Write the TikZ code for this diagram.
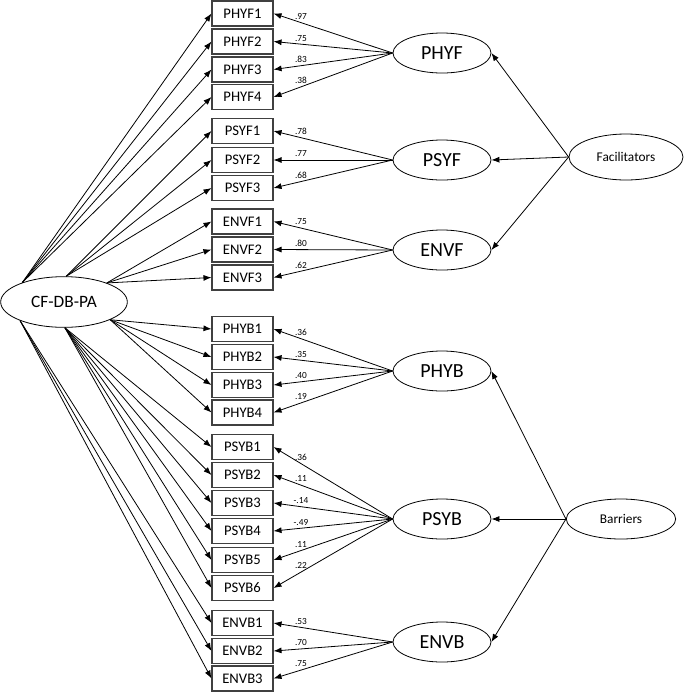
\documentclass[tikz,border=0pt]{standalone}
\usepackage{fontspec}
\setmainfont{Carlito}
\usetikzlibrary{shapes.geometric,arrows.meta}
\begin{document}
\begin{tikzpicture}[x=0.75pt, y=-0.75pt, >={Latex[length=6pt,width=4.5pt]},
    indbox/.style={rectangle, draw=black!75, line width=0.8pt, minimum width=45.75pt, minimum height=18.75pt, inner sep=0pt, font=\fontsize{11}{12}\selectfont},
    lat/.style={ellipse, draw, line width=0.6pt, minimum width=73.5pt, minimum height=30pt, inner sep=0pt, font=\fontsize{15}{16}\selectfont},
    coef/.style={above, inner sep=2pt, font=\fontsize{7}{8}\selectfont},
    conn/.style={->, line width=0.6pt}]
    \useasboundingbox (0,0) rectangle (685,693);

    % Nodes
    \node (cf) [ellipse, draw, line width=0.6pt, minimum width=95pt, minimum height=38pt, inner sep=0pt, font=\fontsize{13}{14}\selectfont] at (64,302) {CF-DB-PA};

    \node (phyf1) [indbox] at (242.5,13.5) {PHYF1};
    \node (phyf2) [indbox] at (242.5,41.5) {PHYF2};
    \node (phyf3) [indbox] at (242.5,69.5) {PHYF3};
    \node (phyf4) [indbox] at (242.5,97) {PHYF4};
    \node (psyf1) [indbox] at (242.5,131) {PSYF1};
    \node (psyf2) [indbox] at (242.5,160) {PSYF2};
    \node (psyf3) [indbox] at (242.5,188) {PSYF3};
    \node (envf1) [indbox] at (242.5,221.5) {ENVF1};
    \node (envf2) [indbox] at (242.5,249.5) {ENVF2};
    \node (envf3) [indbox] at (242.5,277.5) {ENVF3};
    \node (phyb1) [indbox] at (242.5,329) {PHYB1};
    \node (phyb2) [indbox] at (242.5,357) {PHYB2};
    \node (phyb3) [indbox] at (242.5,385) {PHYB3};
    \node (phyb4) [indbox] at (242.5,412.5) {PHYB4};
    \node (psyb1) [indbox] at (242.5,447) {PSYB1};
    \node (psyb2) [indbox] at (242.5,475) {PSYB2};
    \node (psyb3) [indbox] at (242.5,503) {PSYB3};
    \node (psyb4) [indbox] at (242.5,531) {PSYB4};
    \node (psyb5) [indbox] at (242.5,560) {PSYB5};
    \node (psyb6) [indbox] at (242.5,588) {PSYB6};
    \node (envb1) [indbox] at (242.5,623) {ENVB1};
    \node (envb2) [indbox] at (242.5,651) {ENVB2};
    \node (envb3) [indbox] at (242.5,678.5) {ENVB3};

    \node (phyf) [lat] at (442,53) {PHYF};
    \node (psyf) [lat] at (442,160) {PSYF};
    \node (envf) [lat] at (442,250) {ENVF};
    \node (phyb) [lat] at (442,371) {PHYB};
    \node (psyb) [lat] at (442,519) {PSYB};
    \node (envb) [lat] at (442,642) {ENVB};

    \node (fac) [ellipse, draw, line width=0.6pt, minimum width=85.5pt, minimum height=34.5pt, inner sep=0pt, font=\fontsize{10}{11}\selectfont] at (626,157) {Facilitators};
    \node (bar) [ellipse, draw, line width=0.6pt, minimum width=82pt, minimum height=30pt, inner sep=0pt, font=\fontsize{10}{11}\selectfont] at (621,519) {Barriers};

    % Edges from CF-DB-PA
    \draw[conn] (cf.155) -- (phyf1.west);
    \draw[conn] (cf.155) -- (phyf2.west);
    \draw[conn] (cf.155) -- (phyf3.west);
    \draw[conn] (cf.155) -- (phyf4.west);
    \draw[conn] (cf.85) -- (psyf1.west);
    \draw[conn] (cf.85) -- (psyf2.west);
    \draw[conn] (cf.85) -- (psyf3.west);
    \draw[conn] (cf.24) -- (envf1.west);
    \draw[conn] (cf.24) -- (envf2.west);
    \draw[conn] (cf.24) -- (envf3.west);
    \draw[conn] (cf.-21) -- (phyb1.west);
    \draw[conn] (cf.-21) -- (phyb2.west);
    \draw[conn] (cf.-21) -- (phyb3.west);
    \draw[conn] (cf.-21) -- (phyb4.west);
    \draw[conn] (cf.-88) -- (psyb1.west);
    \draw[conn] (cf.-88) -- (psyb2.west);
    \draw[conn] (cf.-88) -- (psyb3.west);
    \draw[conn] (cf.-88) -- (psyb4.west);
    \draw[conn] (cf.-88) -- (psyb5.west);
    \draw[conn] (cf.-88) -- (psyb6.west);
    \draw[conn] (cf.-157) -- (envb1.west);
    \draw[conn] (cf.-157) -- (envb2.west);
    \draw[conn] (cf.-157) -- (envb3.west);

    % Loadings
    \draw[conn] (phyf.west) -- node[coef, pos=.77] {.97} (phyf1.east);
    \draw[conn] (phyf.west) -- node[coef, pos=.77] {.75} (phyf2.east);
    \draw[conn] (phyf.west) -- node[coef, pos=.77] {.83} (phyf3.east);
    \draw[conn] (phyf.west) -- node[coef, pos=.77] {.38} (phyf4.east);
    \draw[conn] (psyf.west) -- node[coef, pos=.77] {.78} (psyf1.east);
    \draw[conn] (psyf.west) -- node[coef, pos=.77] {.77} (psyf2.east);
    \draw[conn] (psyf.west) -- node[coef, pos=.77] {.68} (psyf3.east);
    \draw[conn] (envf.west) -- node[coef, pos=.77] {.75} (envf1.east);
    \draw[conn] (envf.west) -- node[coef, pos=.77] {.80} (envf2.east);
    \draw[conn] (envf.west) -- node[coef, pos=.77] {.62} (envf3.east);
    \draw[conn] (phyb.west) -- node[coef, pos=.77] {.36} (phyb1.east);
    \draw[conn] (phyb.west) -- node[coef, pos=.77] {.35} (phyb2.east);
    \draw[conn] (phyb.west) -- node[coef, pos=.77] {.40} (phyb3.east);
    \draw[conn] (phyb.west) -- node[coef, pos=.77] {.19} (phyb4.east);
    \draw[conn] (psyb.west) -- node[coef, pos=.77] {.36} (psyb1.east);
    \draw[conn] (psyb.west) -- node[coef, pos=.77] {.11} (psyb2.east);
    \draw[conn] (psyb.west) -- node[coef, pos=.77] {-.14} (psyb3.east);
    \draw[conn] (psyb.west) -- node[coef, pos=.77] {-.49} (psyb4.east);
    \draw[conn] (psyb.west) -- node[coef, pos=.77] {.11} (psyb5.east);
    \draw[conn] (psyb.west) -- node[coef, pos=.77] {.22} (psyb6.east);
    \draw[conn] (envb.west) -- node[coef, pos=.77] {.53} (envb1.east);
    \draw[conn] (envb.west) -- node[coef, pos=.77] {.70} (envb2.east);
    \draw[conn] (envb.west) -- node[coef, pos=.77] {.75} (envb3.east);

    % Higher order
    \draw[conn] (fac.west) -- (phyf.east);
    \draw[conn] (fac.west) -- (psyf.east);
    \draw[conn] (fac.west) -- (envf.east);
    \draw[conn] (bar.west) -- (phyb.east);
    \draw[conn] (bar.west) -- (psyb.east);
    \draw[conn] (bar.west) -- (envb.east);
\end{tikzpicture}
\end{document}
